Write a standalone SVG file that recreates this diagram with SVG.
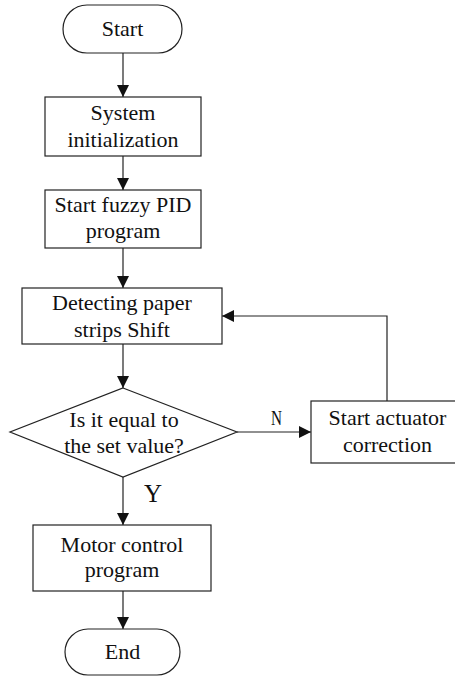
<svg xmlns="http://www.w3.org/2000/svg" width="455" height="676" viewBox="0 0 455 676">
  <style>
    .shape { fill: #ffffff; stroke: #222222; stroke-width: 1.2; }
    .link { fill: none; stroke: #222222; stroke-width: 1.2; }
  </style>
  <defs>
    <marker id="arrow" markerUnits="userSpaceOnUse" markerWidth="12" markerHeight="12" refX="12" refY="6" orient="auto">
      <path d="M0,0 L12,6 L0,12 Z" fill="#111111"/>
    </marker>
  </defs>
  <rect width="455" height="676" fill="#ffffff"/>

  <!-- connectors -->
  <g id="connectors">
    <line class="link" x1="123" y1="53" x2="123" y2="97" marker-end="url(#arrow)"/>
    <line class="link" x1="123" y1="156" x2="123" y2="190" marker-end="url(#arrow)"/>
    <line class="link" x1="123" y1="248" x2="123" y2="288" marker-end="url(#arrow)"/>
    <line class="link" x1="123" y1="344" x2="123" y2="388" marker-end="url(#arrow)"/>
    <line class="link" x1="237" y1="432" x2="311" y2="432" marker-end="url(#arrow)"/>
    <polyline class="link" points="387,401 387,316 222,316" marker-end="url(#arrow)"/>
    <line class="link" x1="123" y1="477" x2="123" y2="525" marker-end="url(#arrow)"/>
    <line class="link" x1="123" y1="591" x2="123" y2="629" marker-end="url(#arrow)"/>
    <text x="276.5" y="425" font-family="Liberation Serif, serif" font-size="22" fill="#111111" text-anchor="middle" textLength="11" lengthAdjust="spacingAndGlyphs">N</text>
    <text x="153" y="502" font-family="Liberation Serif, serif" font-size="25" fill="#111111" text-anchor="middle">Y</text>
  </g>

  <!-- nodes: all captions share one serif face -->
  <g id="nodes" font-family="Liberation Serif, serif" font-size="22" fill="#111111" text-anchor="middle">
    <g id="start">
      <rect class="shape" x="63" y="5" width="119" height="48" rx="24" ry="24"/>
      <text x="122.5" y="36">Start</text>
    </g>

    <g id="init">
      <rect class="shape" x="45" y="97" width="156" height="59"/>
      <text x="123" y="120">System</text>
      <text x="123" y="147">initialization</text>
    </g>

    <g id="fuzzy">
      <rect class="shape" x="45" y="190" width="156" height="58"/>
      <text x="123" y="212">Start fuzzy PID</text>
      <text x="123" y="238">program</text>
    </g>

    <g id="detect">
      <rect class="shape" x="22" y="288" width="200" height="56"/>
      <text x="122" y="310">Detecting paper</text>
      <text x="122" y="337">strips Shift</text>
    </g>

    <g id="decision">
      <polygon class="shape" points="123,388 237,432 123,477 10,432"/>
      <text x="124" y="427">Is it equal to</text>
      <text x="124" y="453">the set value?</text>
    </g>

    <g id="actuator">
      <rect class="shape" x="311" y="401" width="152" height="62"/>
      <text x="387.5" y="425">Start actuator</text>
      <text x="387.5" y="452">correction</text>
    </g>

    <g id="motor">
      <rect class="shape" x="33" y="525" width="178" height="66"/>
      <text x="122" y="552">Motor control</text>
      <text x="122" y="577">program</text>
    </g>

    <g id="end">
      <rect class="shape" x="65" y="629" width="115" height="46" rx="23" ry="23"/>
      <text x="122.5" y="659">End</text>
    </g>
  </g>
</svg>
